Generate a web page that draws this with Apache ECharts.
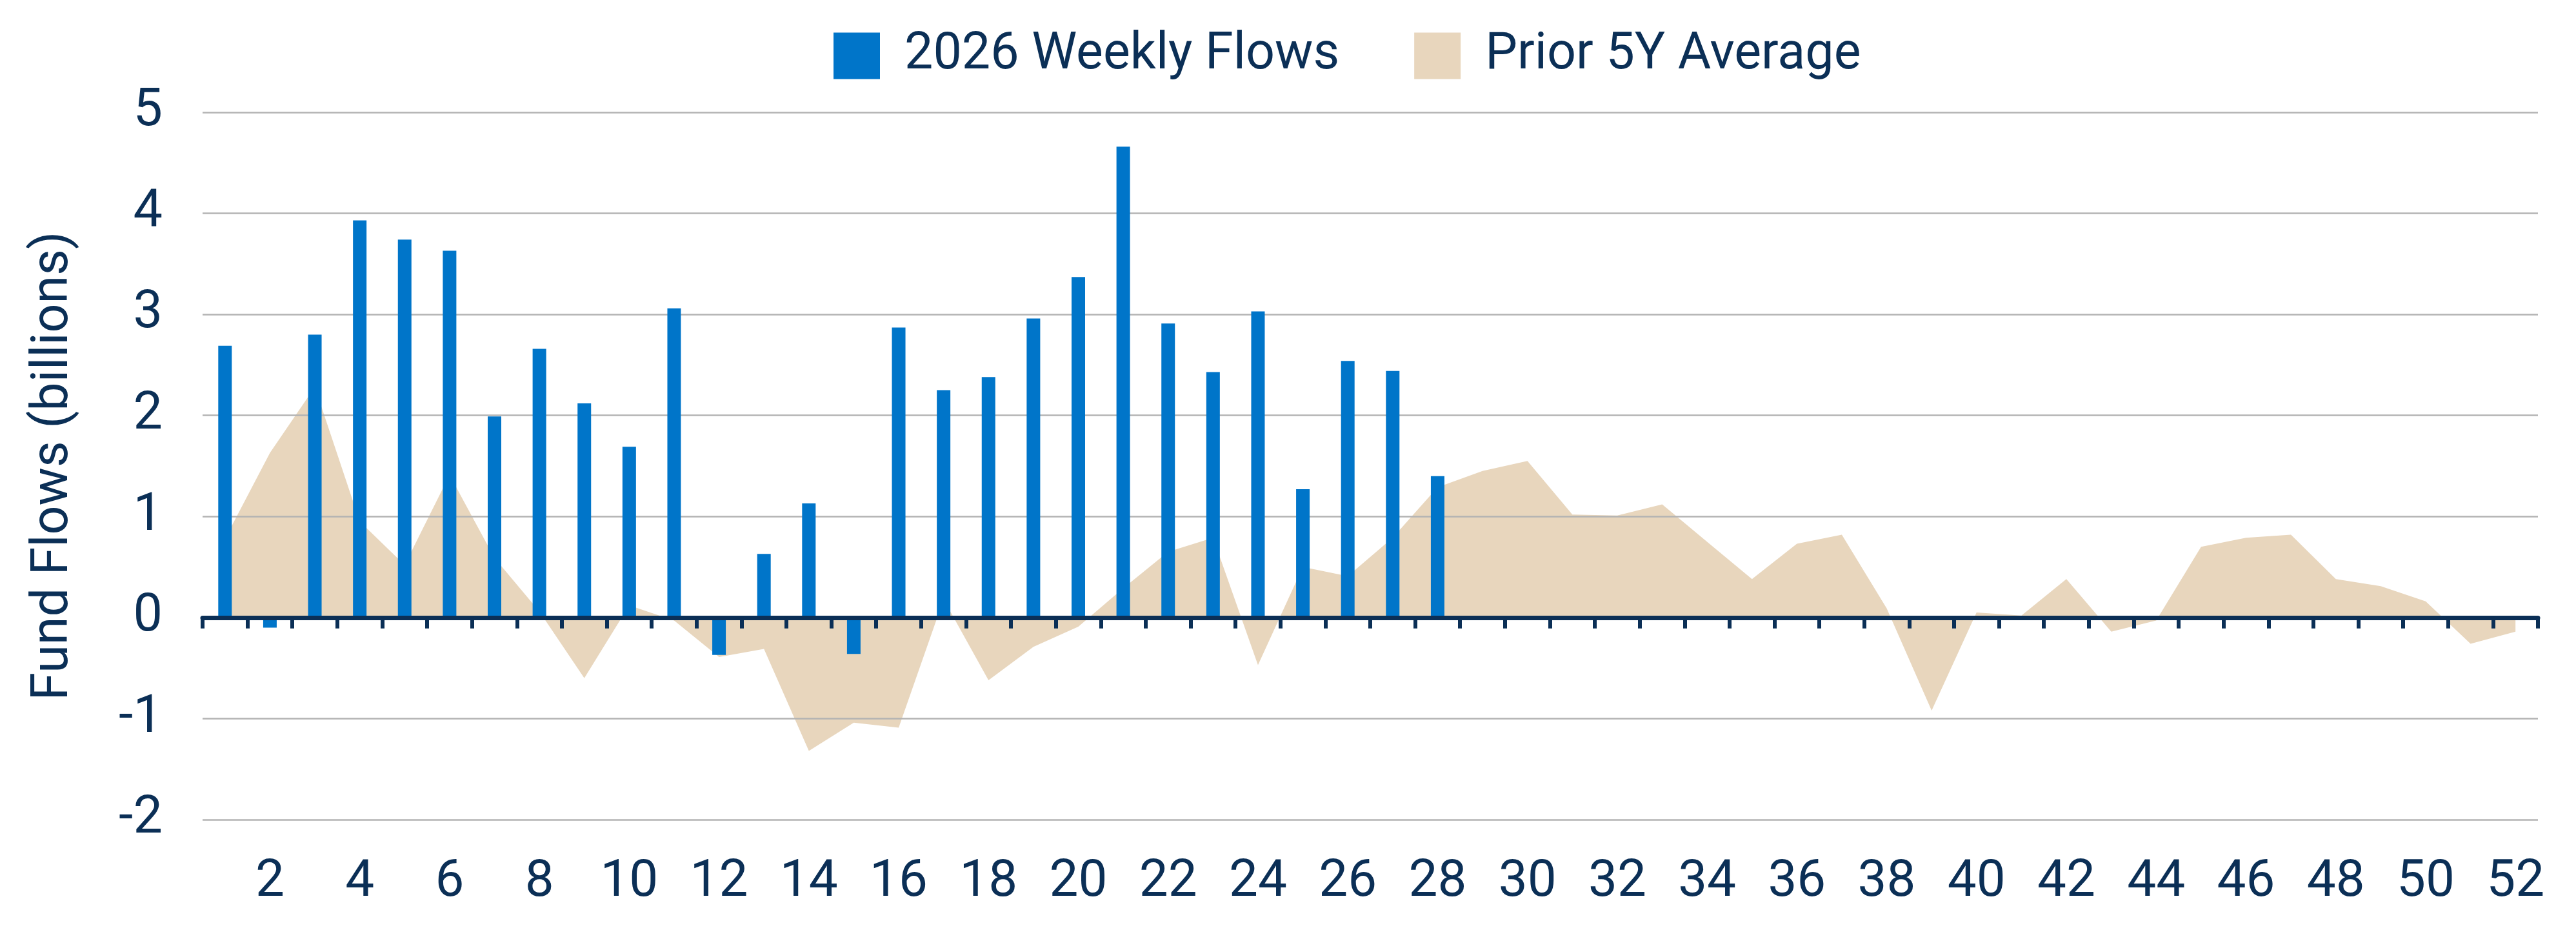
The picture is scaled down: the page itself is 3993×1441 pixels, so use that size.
<!DOCTYPE html>
<html>
<head>
<meta charset="utf-8">
<script src="https://cdn.jsdelivr.net/npm/echarts@6/dist/echarts.min.js"></script>
<style>
html,body{margin:0;padding:0;background:#ffffff;}
#chart{width:3993px;height:1441px;}
</style>
</head>
<body>
<div id="chart"></div>
<script>
const weeks = ['1','2','3','4','5','6','7','8','9','10','11','12','13','14','15','16','17','18','19','20','21','22','23','24','25','26','27','28','29','30','31','32','33','34','35','36','37','38','39','40','41','42','43','44','45','46','47','48','49','50','51','52'];
const weekly2026 = [2.69,-0.10,2.80,3.93,3.74,3.63,1.99,2.66,2.12,1.69,3.06,-0.37,0.63,1.13,-0.36,2.87,2.25,2.38,2.96,3.37,4.66,2.91,2.43,3.03,1.27,2.54,2.44,1.40];
const prior5yAvg = [0.78,1.63,2.28,0.95,0.52,1.41,0.59,0.06,-0.60,0.12,-0.03,-0.39,-0.31,-1.32,-1.04,-1.09,0.18,-0.62,-0.29,-0.09,0.29,0.65,0.79,-0.47,0.50,0.41,0.79,1.29,1.45,1.55,1.02,1.01,1.12,0.75,0.38,0.73,0.82,0.09,-0.92,0.05,0.02,0.38,-0.14,-0.03,0.70,0.79,0.82,0.38,0.31,0.16,-0.26,-0.14];
const seriesNames = ['2026 Weekly Flows','Prior 5Y Average'];
const yAxisName = 'Fund Flows (billions)';
const yMin = -2, yMax = 5, yStep = 1;

const navy = '#0b2f56';
const font = 'Roboto';
const chart = echarts.init(document.getElementById('chart'), null, {renderer:'canvas'});
chart.setOption({
  animation: false,
  backgroundColor: '#ffffff',
  textStyle: {fontFamily: font, color: navy},
  legend: {
    left: 1292, top: 47, padding: 0,
    icon: 'rect', itemWidth: 72, itemHeight: 72, itemGap: 116,
    textStyle: {fontFamily: font, fontSize: 79, color: navy, padding: [0,0,0,33]},
    data: seriesNames
  },
  grid: {left: 314, right: 59, top: 174, bottom: 171, containLabel: false},
  xAxis: [
    {
      type: 'category', data: weeks, boundaryGap: true, position: 'bottom', z: 5,
      axisLine: {show: true, onZero: true, lineStyle: {color: navy, width: 7}},
      axisTick: {show: true, interval: 0, length: 17, lineStyle: {color: navy, width: 6}},
      axisLabel: {show: false},
      splitLine: {show: false}
    },
    {
      type: 'category', data: weeks, boundaryGap: true, position: 'bottom',
      axisLine: {show: false, onZero: false},
      axisTick: {show: false},
      axisLabel: {
        show: true, margin: 58, fontFamily: font, fontSize: 80, color: navy,
        interval: function (index) { return index % 2 === 1; }
      },
      splitLine: {show: false}
    }
  ],
  yAxis: {
    type: 'value', min: yMin, max: yMax, interval: yStep,
    name: yAxisName, nameLocation: 'middle', nameGap: 190, nameRotate: 90,
    nameTextStyle: {fontFamily: font, fontSize: 79, color: navy},
    axisLine: {show: false}, axisTick: {show: false},
    axisLabel: {margin: 62, fontFamily: font, fontSize: 81, color: navy},
    splitLine: {show: true, lineStyle: {color: '#b3b3b3', width: 2.5}}
  },
  series: [
    {
      name: seriesNames[1], type: 'line', xAxisIndex: 0, data: prior5yAvg,
      z: -1, color: '#e8d6bd', showSymbol: false, symbol: 'none',
      lineStyle: {width: 0, color: '#e8d6bd'},
      itemStyle: {color: '#e8d6bd'},
      areaStyle: {color: '#e8d6bd', opacity: 1}
    },
    {
      name: seriesNames[0], type: 'bar', xAxisIndex: 0, data: weekly2026,
      barWidth: 21, z: 2,
      itemStyle: {color: '#0075c9'}
    }
  ]
});
</script>
</body>
</html>
